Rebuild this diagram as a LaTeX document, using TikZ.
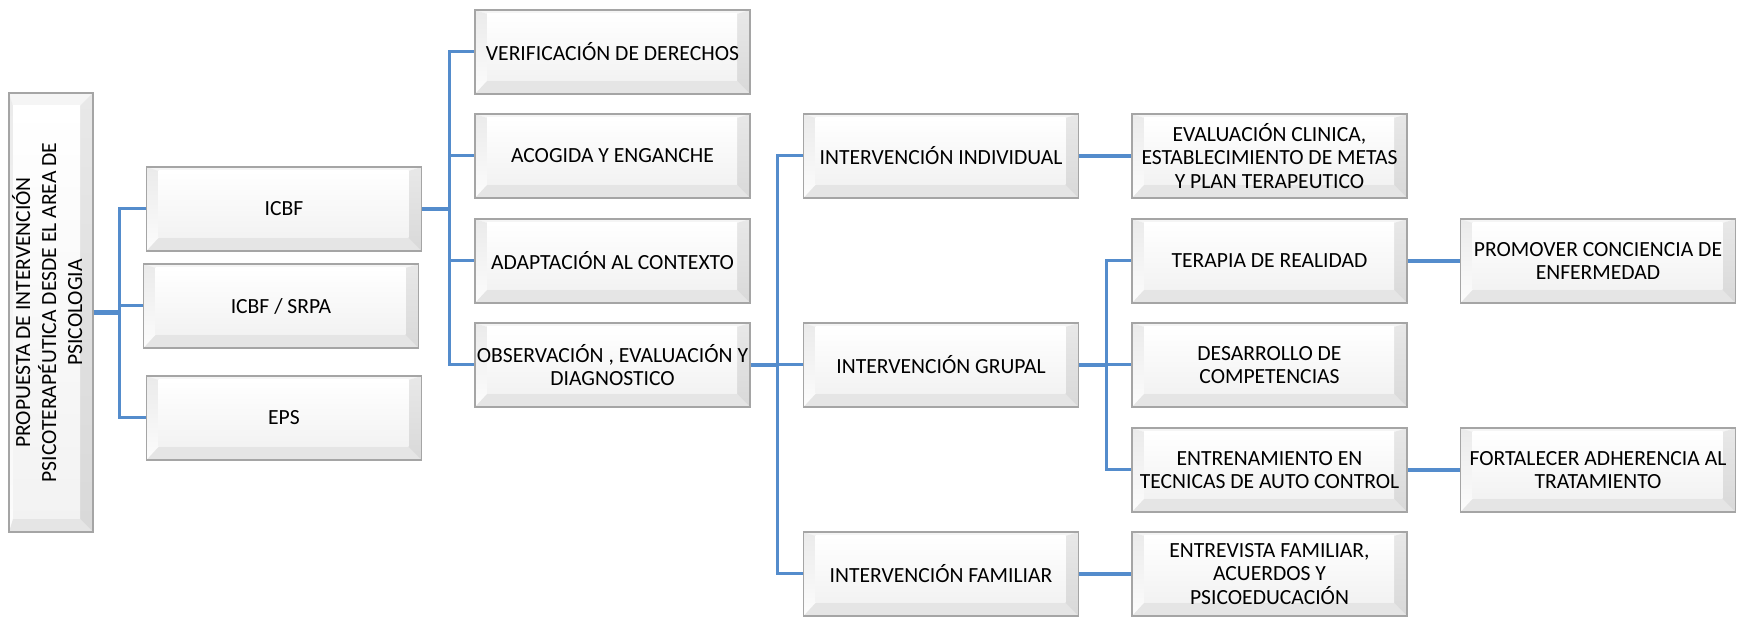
\documentclass[tikz,border=0pt]{standalone}
\usepackage{fontspec}
\setmainfont{Carlito}
\usepackage{graphicx}
\usepackage{tikz}
\usetikzlibrary{calc,positioning}

\definecolor{linkblue}{RGB}{84,140,204}
\definecolor{bevline}{RGB}{165,165,165}

\tikzset{
  facet/.style n args={4}{path picture={
    \coordinate (pA) at (path picture bounding box.north west);
    \coordinate (pB) at (path picture bounding box.north east);
    \coordinate (pC) at (path picture bounding box.south east);
    \coordinate (pD) at (path picture bounding box.south west);
    \coordinate (qA) at ($(pA)+(#1,-#2)$);
    \coordinate (qB) at ($(pB)+(-#3,-#2)$);
    \coordinate (qC) at ($(pC)+(-#3,#4)$);
    \coordinate (qD) at ($(pD)+(#1,#4)$);
    \fill[black!4] (pA) -- (pB) -- (qB) -- (qA) -- cycle;
    \shade[top color=black!8, bottom color=black!1] (pA) -- (qA) -- (qD) -- (pD) -- cycle;
    \fill[black!10] (pD) -- (qD) -- (qC) -- (pC) -- cycle;
    \shade[top color=black!9, bottom color=black!15] (pB) -- (pC) -- (qC) -- (qB) -- cycle;
    \shade[top color=white, bottom color=black!5] (qA) rectangle (qC);
  }},
  bevelbox/.style={rectangle, draw=bevline, line width=0.7pt, fill=white,
    minimum width=137.5pt, minimum height=42pt, inner sep=0pt, align=center,
    font=\fontsize{10.8}{11.8}\selectfont, facet={6pt}{2pt}{6.5pt}{6.5pt}},
  rootbox/.style={bevelbox, minimum width=42pt, minimum height=219.5pt,
    facet={2pt}{6.5pt}{6.5pt}{6.5pt}},
  stub/.style={draw=linkblue, line width=2.1pt},
  branch/.style={draw=linkblue, line width=1.5pt},
}

\begin{document}
\begin{tikzpicture}[x=0.5pt,y=0.5pt]
    \useasboundingbox (0,0) rectangle (1740,621);

    % Root
    \node[rootbox] (root) at (51,308.5) {\rotatebox{90}{\def\arraystretch{1.1}%
        \begin{tabular}{@{}c@{}}PROPUESTA DE INTERVENCIÓN\\
        PSICOTERAPÉUTICA DESDE EL AREA DE\\ PSICOLOGIA\end{tabular}}};

    % Entities
    \node[bevelbox] (icbf) at (284,412) {ICBF};
    \node[bevelbox] (srpa) at (281,315) {ICBF / SRPA};
    \node[bevelbox] (eps) at (284,203) {EPS};

    % Phases
    \foreach \name/\y/\txt in {verif/569/{VERIFICACIÓN DE DERECHOS}, acog/465/{ACOGIDA Y ENGANCHE},
        adap/360/{ADAPTACIÓN AL CONTEXTO}, obs/256/{OBSERVACIÓN , EVALUACIÓN Y\\ DIAGNOSTICO}} {
        \node[bevelbox] (\name) at (612.5,\y) {\txt};
    }

    % Interventions
    \foreach \name/\y/\txt in {indiv/465/{INTERVENCIÓN INDIVIDUAL}, grup/256/{INTERVENCIÓN GRUPAL},
        fam/47/{INTERVENCIÓN FAMILIAR}} {
        \node[bevelbox] (\name) at (941,\y) {\txt};
    }

    % Actions
    \foreach \name/\y/\txt in {eval/465/{EVALUACIÓN CLINICA,\\ ESTABLECIMIENTO DE METAS\\ Y PLAN TERAPEUTICO},
        terap/360/{TERAPIA DE REALIDAD}, desar/256/{DESARROLLO DE\\ COMPETENCIAS},
        entre/151/{ENTRENAMIENTO EN\\ TECNICAS DE AUTO CONTROL},
        entrev/47/{ENTREVISTA FAMILIAR,\\ ACUERDOS Y\\ PSICOEDUCACIÓN}} {
        \node[bevelbox] (\name) at (1269.5,\y) {\txt};
    }

    % Goals
    \node[bevelbox] (promo) at (1598,360) {PROMOVER CONCIENCIA DE\\ ENFERMEDAD};
    \node[bevelbox] (forta) at (1598,151) {FORTALECER ADHERENCIA AL\\ TRATAMIENTO};

    % Connectors
    \coordinate (bus0) at (119,0);
    \coordinate (bus1) at (449,0);
    \coordinate (bus2) at (777,0);
    \coordinate (bus3) at (1106,0);

    \draw[stub] (root.east) -- (root.east -| bus0);
    \foreach \n in {icbf,srpa,eps}
        \draw[branch] (root.east -| bus0) |- (\n.west);

    \draw[stub] (icbf.east) -- (icbf.east -| bus1);
    \foreach \n in {verif,acog,adap,obs}
        \draw[branch] (icbf.east -| bus1) |- (\n.west);

    \draw[stub] (obs.east) -- (obs.east -| bus2);
    \foreach \n in {indiv,grup,fam}
        \draw[branch] (obs.east -| bus2) |- (\n.west);

    \draw[stub] (grup.east) -- (grup.east -| bus3);
    \foreach \n in {terap,desar,entre}
        \draw[branch] (grup.east -| bus3) |- (\n.west);

    \draw[stub] (indiv.east) -- (eval.west);
    \draw[stub] (fam.east) -- (entrev.west);
    \draw[stub] (terap.east) -- (promo.west);
    \draw[stub] (entre.east) -- (forta.west);
\end{tikzpicture}
\end{document}
